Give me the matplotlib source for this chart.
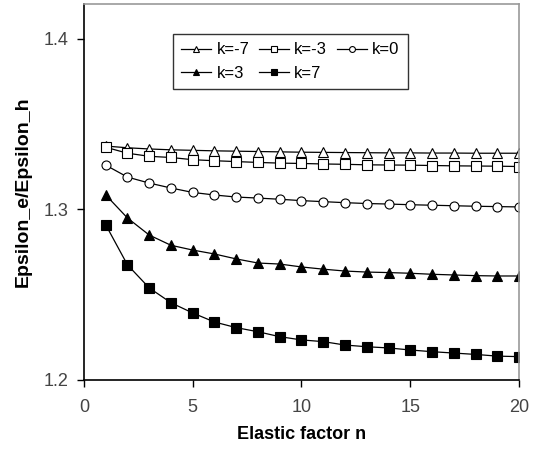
import matplotlib.pyplot as plt

plt.rcParams['font.family'] = ['Liberation Sans', 'DejaVu Sans']

n = list(range(1, 21))

k_m7 = [1.3372, 1.3362, 1.3355, 1.3350, 1.3347, 1.3344, 1.3342, 1.3340, 1.3338, 1.3336,
        1.3335, 1.3334, 1.3333, 1.3332, 1.3332, 1.3331, 1.3331, 1.3330, 1.3330, 1.3330]
k_m3 = [1.3365, 1.3330, 1.3312, 1.3305, 1.3292, 1.3286, 1.3281, 1.3276, 1.3272, 1.3270,
        1.3267, 1.3265, 1.3262, 1.3261, 1.3260, 1.3258, 1.3256, 1.3255, 1.3254, 1.3252]
k_0 = [1.3260, 1.3190, 1.3155, 1.3126, 1.3100, 1.3085, 1.3073, 1.3067, 1.3060, 1.3052,
       1.3046, 1.3040, 1.3035, 1.3032, 1.3028, 1.3025, 1.3022, 1.3019, 1.3017, 1.3015]
k_3 = [1.3085, 1.2950, 1.2850, 1.2790, 1.2762, 1.2739, 1.2710, 1.2686, 1.2680, 1.2663,
       1.2650, 1.2639, 1.2633, 1.2630, 1.2626, 1.2620, 1.2616, 1.2612, 1.2610, 1.2610]
k_7 = [1.2910, 1.2675, 1.2540, 1.2453, 1.2393, 1.2340, 1.2307, 1.2283, 1.2254, 1.2235,
       1.2225, 1.2205, 1.2195, 1.2188, 1.2176, 1.2166, 1.2158, 1.2150, 1.2140, 1.2137]

fig = plt.figure(figsize=(5.37, 4.49), dpi=100)
ax = fig.add_axes([0.1564, 0.1537, 0.8101, 0.8373])

kw = dict(color='black', lw=0.9, ms=6.5, mec='black', mew=0.8)
l1, = ax.plot(n, k_m7, marker='^', mfc='white', label='k=-7', **kw)
l2, = ax.plot(n, k_m3, marker='s', mfc='white', label='k=-3', **kw)
l3, = ax.plot(n, k_0, marker='o', mfc='white', label='k=0', **kw)
l4, = ax.plot(n, k_3, marker='^', mfc='black', label='k=3', **kw)
l5, = ax.plot(n, k_7, marker='s', mfc='black', label='k=7', **kw)

ax.set_xlim(0, 20)
ax.set_ylim(1.2, 1.4205)
ax.set_xticks([0, 5, 10, 15, 20])
ax.set_yticks([1.2, 1.3, 1.4])
ax.set_yticklabels(['1.2', '1.3', '1.4'])
ax.tick_params(labelsize=13, colors='black', labelcolor='#444444', length=5, width=1)
ax.tick_params(axis='y', pad=6)
ax.tick_params(axis='x', pad=9)

for s in ['left', 'bottom']:
    ax.spines[s].set_color('black')
    ax.spines[s].set_linewidth(1.2)
for s in ['top', 'right']:
    ax.spines[s].set_color('#999999')
    ax.spines[s].set_linewidth(1.2)

ax.set_xlabel('Elastic factor n', fontsize=13, fontweight='bold', labelpad=7)
ax.set_ylabel('Epsilon_e/Epsilon_h', fontsize=14, fontweight='bold', labelpad=9)

leg = ax.legend([l1, l4, l2, l5, l3], ['k=-7', 'k=3', 'k=-3', 'k=7', 'k=0'],
                ncol=3, loc='upper left', bbox_to_anchor=(0.205, 0.92),
                borderaxespad=0, fontsize=12, frameon=True, fancybox=False,
                edgecolor='black', handlelength=1.8, handletextpad=0.3,
                columnspacing=0.6, borderpad=0.5, labelspacing=0.5,
                markerscale=0.65)
leg.get_frame().set_linewidth(1.0)

fig.savefig('out.png', dpi=100)
